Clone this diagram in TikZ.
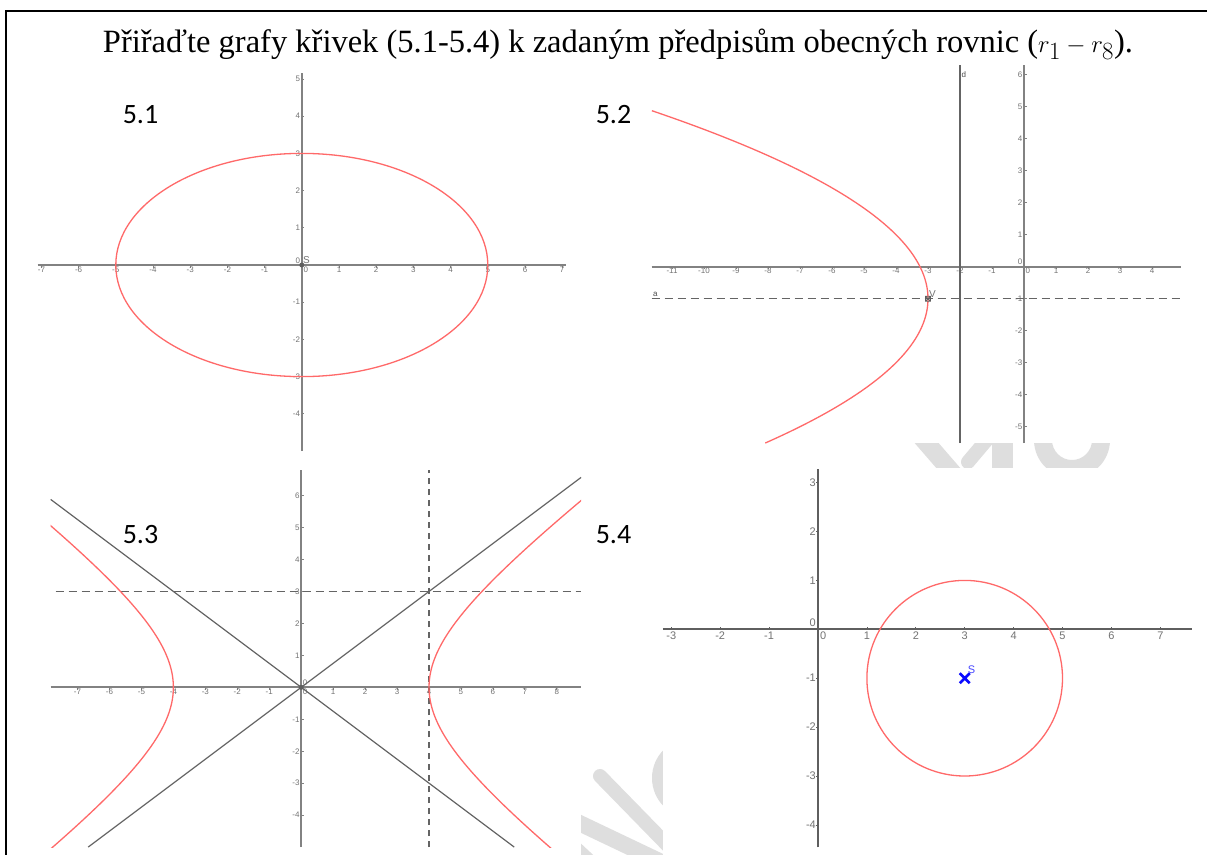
\documentclass[tikz,border=0pt]{standalone}
\usepackage{fontspec}
\setmainfont{Liberation Serif}
\newfontfamily\numfont{Carlito}
\newfontfamily\ggbfont{Liberation Sans}
\usetikzlibrary{calc}

\definecolor{curvered}{RGB}{255,105,105}
\definecolor{axisgray}{RGB}{130,130,130}
\definecolor{darkaxis}{RGB}{95,95,95}
\definecolor{linegray}{RGB}{100,100,100}
\definecolor{ticktext}{RGB}{115,115,115}
\definecolor{wmgray}{RGB}{222,222,222}
\definecolor{pointblue}{RGB}{10,10,255}

\tikzset{
  axis/.style={draw=axisgray, line width=1.7bp},
  tick/.style={draw=axisgray, line width=0.8bp},
  curve/.style={draw=curvered, line width=1.3bp},
  asym/.style={draw=linegray, line width=1.2bp},
  guide/.style={draw=linegray, line width=1.1bp, dash pattern=on 8bp off 5bp},
  ticklab/.style={font=\ggbfont\fontsize{8bp}{9bp}\selectfont, text=ticktext, inner sep=1.5bp},
  biglab/.style={font=\ggbfont\fontsize{11bp}{12bp}\selectfont, text=ticktext, inner sep=2bp},
  graphlab/.style={font=\numfont\fontsize{28bp}{32bp}\selectfont, inner sep=0pt, anchor=base},
  wm/.style={fill=wmgray, draw=none},
}

\begin{document}
\begin{tikzpicture}[x=1bp, y=-1bp]
  \useasboundingbox (0,0) rectangle (1207,855);
  \fill[white] (0,0) rectangle (1207,855);

  % watermark, seen only in the gaps between the plots
  \fill[wm] (912,440) -- (936,440) -- (962,470) -- (938,470) -- cycle;
  \draw[wmgray, line width=14bp, line cap=round] (968,462) -- (990,436);
  \fill[wm] (992,440) rectangle (1013,470);
  \fill[wm, even odd rule] (1072,440) circle[radius=38] (1072,440) circle[radius=20];
  \draw[wmgray, line width=14bp, line cap=round] (600,776) -- (680,858);
  \fill[wm] (575,812) -- (680,862) -- (680,880) -- (575,830) -- cycle;
  \fill[wm] (575,838) -- (620,880) -- (600,880) -- (575,856) -- cycle;
  \fill[wm, even odd rule] (692,778) circle[radius=40] (692,778) circle[radius=22];

  % white backs of the plots
  \fill[white] (651,58) rectangle (1195,443);
  \fill[white] (663,468) rectangle (1200,855);
  \fill[white] (45,452) rectangle (581,855);

  % frame
  \draw[line width=2bp] (6,855) -- (6,11) -- (1207,11);

  % title
  \node[anchor=base, font=\fontsize{32.5bp}{40bp}\selectfont, inner sep=0pt] (title) at (618,52.5)
    {Přiřaďte grafy křivek (5.1-5.4) k zadaným předpisům obecných rovnic (\(r_1-r_8\)).};

  % labels of the plots
  \node[graphlab] (lab51) at (140.5,123) {5.1};
  \node[graphlab] (lab52) at (613.5,123) {5.2};
  \node[graphlab] (lab53) at (140.5,543) {5.3};
  \node[graphlab] (lab54) at (613.5,543) {5.4};

  % 5.1 ellipse
  \begin{scope}[shift={(301.8,265)}, x=37.2bp, y=37.2bp]
    \draw[axis] (-7.1,0) -- (7.1,0);
    \draw[axis] (0,-5) -- (0,5.17);
    \foreach \i in {-7,...,7} \draw[tick] (\i,0) -- ++(0,-2.5bp);
    \foreach \i in {-4,...,5} \draw[tick] (0,\i) -- ++(2.5bp,0);
    \foreach \i in {-7,...,-1,1,2,...,7} \node[ticklab, below] (ea-x\i) at (\i,0) {\i};
    \foreach \i in {-4,...,-1,1,2,...,5} \node[ticklab, left] (ea-y\i) at (0,\i) {\i};
    \node[ticklab, below right] (ea-o1) at (0,0) {0};
    \node[ticklab, above left] (ea-o2) at (0,0) {0};
    \draw[curve] (0,0) ellipse[x radius=5, y radius=3];
    \fill[darkaxis] (0,0) circle[radius=2.5bp];
    \node[ticklab, font=\ggbfont\fontsize{10bp}{11bp}\selectfont, above right, inner sep=1bp] (ea-s) at (0,0) {S};
  \end{scope}

  % 5.2 parabola
  \begin{scope}[shift={(1024,266.7)}, x=32bp, y=32bp]
    \draw[axis] (-11.64,0) -- (4.9,0);
    \draw[axis] (0,-5.51) -- (0,6.3);
    \foreach \i in {-11,...,4} \draw[tick] (\i,0) -- ++(0,-2.5bp);
    \foreach \i in {-5,...,6} \draw[tick] (0,\i) -- ++(2.5bp,0);
    \foreach \i in {-11,...,-1,1,2,...,4} \node[ticklab, below] (pa-x\i) at (\i,0) {\i};
    \foreach \i in {-5,...,-1,1,2,...,6} \node[ticklab, left] (pa-y\i) at (0,\i) {\i};
    \node[ticklab, below right] (pa-o1) at (0,0) {0};
    \node[ticklab, above left] (pa-o2) at (0,0) {0};
    \draw[asym] (-2,-5.51) -- (-2,6.3);
    \node[ticklab, text=black!70, right] (pa-d) at (-2,6.0) {d};
    \draw[guide] (-11.64,-1) -- (4.9,-1);
    \node[ticklab, text=black!70, above right] (pa-a) at (-11.64,-1) {a};
    \draw[curve, domain=-5.51:4.875, samples=90, variable=\t] plot ({-3-(\t+1)^2/4},\t);
    \draw[darkaxis, line width=0.8bp] (-3,-1) +(-2.5bp,-2.5bp) rectangle +(2.5bp,2.5bp)
      (-3,-1) +(-2.5bp,-2.5bp) -- +(2.5bp,2.5bp) +(-2.5bp,2.5bp) -- +(2.5bp,-2.5bp);
    \node[ticklab, font=\ggbfont\fontsize{10bp}{11bp}\selectfont, above right, inner sep=1bp] (pa-v) at (-3,-1) {V};
  \end{scope}

  % 5.3 hyperbola
  \begin{scope}[shift={(301.2,687.3)}, x=31.95bp, y=31.95bp]
    \draw[axis] (-7.84,0) -- (8.76,0);
    \draw[axis] (0,-5) -- (0,6.79);
    \foreach \i in {-7,...,8} \draw[tick] (\i,0) -- ++(0,-2.5bp);
    \foreach \i in {-4,...,6} \draw[tick] (0,\i) -- ++(2.5bp,0);
    \foreach \i in {-7,...,-1,1,2,...,8} \node[ticklab, below] (hy-x\i) at (\i,0) {\i};
    \foreach \i in {-4,...,-1,1,2,...,6} \node[ticklab, left] (hy-y\i) at (0,\i) {\i};
    \node[ticklab, below right] (hy-o1) at (0,0) {0};
    \node[ticklab, above right] (hy-o2) at (0,0) {0};
    \draw[guide, dash pattern=on 6bp off 5bp] (4,-5) -- (4,6.79);
    \draw[guide] (-7.69,3) -- (8.76,3);
    \draw[asym] (-7.84,5.88) -- (6.667,-5);
    \draw[asym] (-6.667,-5) -- (8.76,6.57);
    \begin{scope}
      \clip (-7.84,-5) rectangle (8.76,6.79);
      \draw[curve, domain=-1.5:1.5, samples=90, variable=\t] plot ({4*cosh(\t)},{3*sinh(\t)});
      \draw[curve, domain=-1.5:1.5, samples=90, variable=\t] plot ({-4*cosh(\t)},{3*sinh(\t)});
    \end{scope}
    \fill[darkaxis] (0,0) circle[radius=2.5bp];
  \end{scope}

  % 5.4 circle
  \begin{scope}[shift={(818,629.3)}, x=48.9bp, y=48.9bp]
    \draw[axis, draw=darkaxis] (-3.17,0) -- (7.65,0);
    \draw[axis, draw=darkaxis] (0,-4.46) -- (0,3.27);
    \foreach \i in {-3,...,7} \draw[tick, draw=darkaxis] (\i,0) -- ++(0,2.5bp);
    \foreach \i in {-4,...,3} \draw[tick, draw=darkaxis] (0,\i) -- ++(-2.5bp,0);
    \foreach \i in {-3,...,-1,1,2,...,7} \node[biglab, below] (ci-x\i) at (\i,0) {\i};
    \foreach \i in {-4,...,-1,1,2,3} \node[biglab, left] (ci-y\i) at (0,\i) {\i};
    \node[biglab, below right] (ci-o1) at (0,0) {0};
    \node[biglab, above left] (ci-o2) at (0,0) {0};
    \draw[curve] (3,-1) circle[radius=2];
    \draw[pointblue, line width=2.6bp] (3,-1) +(-5bp,-5bp) -- +(5bp,5bp) +(-5bp,5bp) -- +(5bp,-5bp);
    \node[biglab, text=pointblue!75, above right, inner sep=1bp] (ci-s) at ($(3,-1)+(2bp,3bp)$) {S};
  \end{scope}
\end{tikzpicture}
\end{document}
